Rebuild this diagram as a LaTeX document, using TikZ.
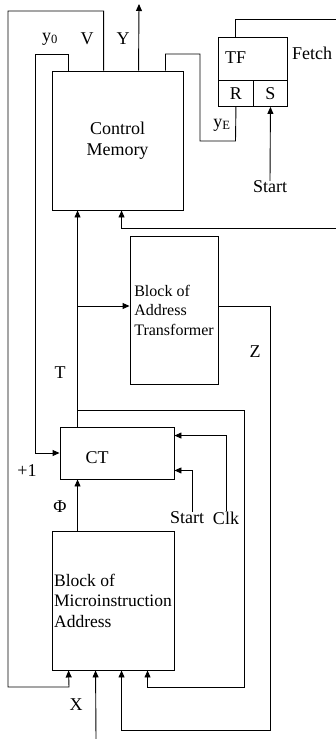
\documentclass[tikz,border=0pt]{standalone}
\usepackage{fontspec}
\setmainfont{Liberation Serif}
\usetikzlibrary{arrows.meta,positioning,calc}
\tikzset{
  blk/.style={rectangle, draw=black, line width=0.9pt, inner sep=2pt},
  link/.style={-{Triangle[length=7pt,width=6pt]}, line width=0.9pt},
  wire/.style={line width=0.9pt},
  lbl/.style={inner sep=0pt, font=\fontsize{18}{21}\selectfont},
}
\begin{document}
\begin{tikzpicture}[x=1pt, y=-1pt, font=\fontsize{18}{21}\selectfont]
  \useasboundingbox (0,0) rectangle (336,739);
  % blocks
  \node[blk, minimum width=131pt, minimum height=139pt, align=center] (cm) at (117.5,140.5) {Control\\Memory};
  \node[blk, minimum width=69pt, minimum height=43pt, anchor=north west] (tf) at (218,37) {};
  \node[lbl, anchor=west] (tft) at (225,58) {TF};
  \node[blk, minimum width=35pt, minimum height=26pt, anchor=north west] (r) at (218,80) {R};
  \node[blk, minimum width=34pt, minimum height=26pt, anchor=north west] (s) at (253,80) {S};
  \node[blk, minimum width=88pt, minimum height=148pt, align=left,
        font=\fontsize{16}{19.5}\selectfont] (bat) at (174,310) {Block of\\Address\\Transformer};
  \node[blk, minimum width=114pt, minimum height=52pt] (ct) at (117,453) {};
  \node[lbl] (ctt) at (97,458) {CT};
  \node[blk, minimum width=122pt, minimum height=139pt, align=left,
        font=\fontsize{17.5}{20.5}\selectfont] (bma) at (113,600.5) {Block of\\Microinstruction\\Address};
  % labels
  \node[lbl] (y0) at (50,39) {y\textsubscript{0}};
  \node[lbl] (v) at (87,39) {V};
  \node[lbl] (y) at (123,39) {Y};
  \node[lbl] (ye) at (222,125) {y\textsubscript{E}};
  \node[lbl] (fetch) at (312,53) {Fetch};
  \node[lbl] (start) at (270,187) {Start};
  \node[lbl] (t) at (60,373) {T};
  \node[lbl] (z) at (255,352) {Z};
  \node[lbl] (plus) at (27,471) {+1};
  \node[lbl] (phi) at (60,507) {Φ};
  \node[lbl] (startct) at (187,518) {Start};
  \node[lbl] (clk) at (226,518) {Clk};
  \node[lbl] (x) at (76,705) {X};
  \coordinate (yout) at (139,4);
  \coordinate (xin) at (96,739);
  \coordinate (tb) at (78,306);
  % connectors
  \draw[link] ($(cm.north west)+(52,0)$) |- (8,11) |- (69,687) -- ($(bma.south west)+(17,0)$);
  \draw[link] ($(cm.north west)+(17,0)$) |- (35,54) |- (ct.west);
  \draw[link] ($(cm.north west)+(87,0)$) -- (yout);
  \draw[wire] ($(cm.north east)+(-18,0)$) |- (200,54) |- (235.5,141) -- (r.south);
  \draw[wire] ($(tf.north west)+(17,0)$) |- (336,19);
  \draw[link] (start.north) -- (s.south);
  \draw[link] (336,228) -| ($(cm.south west)+(70,0)$);
  \draw[link] ($(ct.north west)+(18,0)$) -- ($(cm.south west)+(26,0)$);
  \draw[link] (tb) -- (tb -| bat.west);
  \draw[link] (78,410) -| (244,687) -| ($(bma.south west)+(96,0)$);
  \draw[link] (tb -| bat.east) -| (270,730) -| ($(bma.south west)+(70,0)$);
  \draw[link] (clk.north) |- ($(ct.north east)+(0,9)$);
  \draw[link] ($(startct.north)+(5,0)$) |- ($(ct.south east)+(0,-9)$);
  \draw[link] ($(bma.north west)+(26,0)$) -- ($(ct.south west)+(18,0)$);
  \draw[link] (xin) -- ($(bma.south west)+(44,0)$);
\end{tikzpicture}
\end{document}
